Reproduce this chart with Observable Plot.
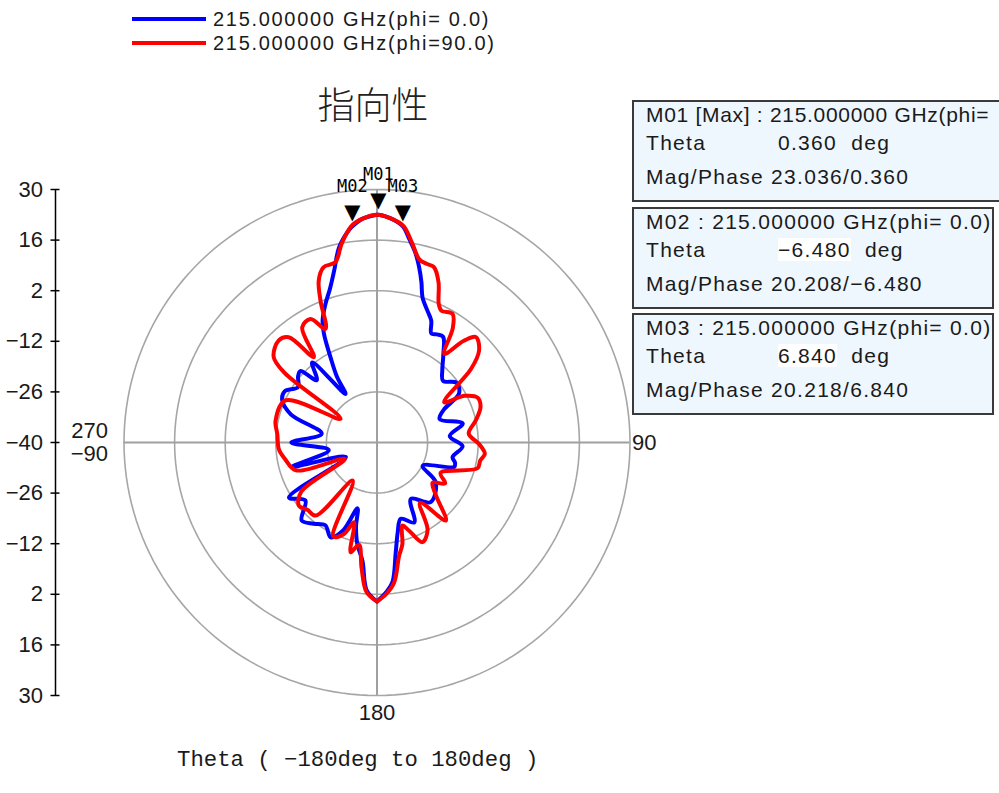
<!DOCTYPE html>
<html><head><meta charset="utf-8">
<script src="https://cdn.jsdelivr.net/npm/d3@7"></script>
<script src="https://cdn.jsdelivr.net/npm/@observablehq/plot@0.6"></script>
<style>
body{margin:0;background:#fff;}
#wrap{position:relative;width:999px;height:793px;overflow:hidden;font-family:"Liberation Sans",Arial,sans-serif;color:#1a1a1a;}
#chart{position:absolute;left:0;top:0;}
.abs{position:absolute;white-space:pre;}
.lg{font-size:20px;letter-spacing:1.7px;line-height:24px;}
.box{position:absolute;border:2px solid #3a3a3a;background:#eef6fe;box-sizing:border-box;}
.bt{position:absolute;white-space:pre;font-size:21px;letter-spacing:1.3px;line-height:24px;}
.hl{background:#fff;}
</style></head><body><div id="wrap"><div id="chart"></div></div>
<script>
// ---------- data ----------
const freqLabel = "215.000000 GHz";
const seriesNames = ["215.000000 GHz(phi= 0.0)", "215.000000 GHz(phi=90.0)"];
const seriesColors = ["#0000ff", "#ff0000"];

// phi = 0 (blue): theta in deg, magnitude in dB
const blueTheta = [-180,-176,-173,-169,-166,-163.5,-159,-154,-148,-142,-136,-129,-122,-115,-106,-99,-90,-81,-72,-66,-61,-55,-50,-47,-44,-39,-33,-31.4,-28.6,-26,-24,-20.4,-17,-14,-11,-8,-6.5,-3.8,0,0.36,3.8,6.84,9,11.6,13.5,15.5,17.4,21,24,26.5,29,32,37,42,47,53,59,64,69.5,77.5,85,92.5,101,104.5,107.5,117,124,138,149,155,162.7,167,170.3,173.7,176.5,180];
const blueMag   = [4,1,-7,-11.4,-16,-21,-14,-10.8,-13,-11.5,-10,-14.5,-11.3,-30.5,-15.5,-26.5,-16.3,-24.5,-15,-11.3,-10.8,-13.3,-11.5,-11,-16,-11.5,-24,-18.8,-13.1,-6.5,-3,0.9,4.5,9,15,18.8,20.2,22,23,23.04,22,20.2,17,13.3,9.9,6,2.1,-1,-3.1,-6.3,-5.8,-5.5,-9.5,-13,-15,-12.5,-13.5,-19.5,-21.5,-15.7,-19.8,-16.3,-18.7,-17.7,-17.6,-25.8,-20.4,-17.8,-21.8,-15.6,-17.9,-14.5,-9.2,-1.1,1.5,4];

// phi = 90 (red)
const redTheta = [-180,-176,-173,-170,-166.5,-164,-160,-155,-147.5,-140,-134,-129,-123,-117,-109,-100,-94,-85,-78,-65.3,-57,-53,-50.4,-44,-40,-36.5,-33,-28.3,-24.4,-21.7,-19.8,-17,-13,-10,-6.5,-3.8,0,3.8,7,10,13,15.5,18,21,24,26,30.4,33.5,37.2,40.5,43.2,48,52,59,62,66,71,77.4,84.5,91,96,100,104.4,115.5,121,126,132,138.6,144.5,150,155.5,160,163,166,169,173,176.5,180];
const redMag   = [4,1.5,-5,-11.3,-8.8,-17,-13,-11.3,-27.5,-13.6,-13.2,-12.2,-15,-30,-16.3,-14.1,-12.8,-12.3,-11.3,-12.1,-28,-8,-2.9,-0.8,-2,-10.6,-2,-1.2,-5.5,2.3,7.6,10.7,11.2,16,20.5,22,23,22,20.3,16,12,11.3,11,7.5,2,0.6,1.3,-2,-9.2,-3,0,-2,-7,-18.3,-12.5,-9.5,-9.7,-12,-14.5,-11.7,-10,-11,-11.3,-20.5,-18,-21,-18,-11.2,-19.5,-12,-9.7,-14,-16,-11,-8,-1,2,4];

// radial axis (dB)
const rMin = -40, rMax = 30;
const ringValues = [-26, -12, 2, 16, 30];
const dbTicks = [-40, -26, -12, 2, 16, 30];

// angle labels
const angleTheta = [90, 180, 270];
const angleText = ["90", "180", "270\n\u221290"];

// markers
const markerNames = ["M01", "M02", "M03"];
const markerTitles = ["M01 [Max]", "M02", "M03"];
const markerPhi = ["0.0", "0.0", "0.0"];
const markerTheta = [0.36, -6.48, 6.84];
const markerMag = [23.036, 20.208, 20.218];

// ---------- helpers ----------
const rad = d => d * Math.PI / 180;
const px = (t, m) => (m - rMin) * Math.sin(rad(t));
const py = (t, m) => (m - rMin) * Math.cos(rad(t));
const fmtMinus = v => String(v).replace("-", "\u2212");

const blue = blueTheta.map((t, i) => ({theta: t, mag: blueMag[i]}));
const red = redTheta.map((t, i) => ({theta: t, mag: redMag[i]}));
const rings = ringValues.flatMap(v => d3.range(0, 361, 2).map(t => ({ring: v, theta: t, mag: v})));
const markers = markerNames.map((n, i) => ({name: n, theta: markerTheta[i], mag: markerMag[i]}));
const angles = angleTheta.map((t, i) => ({theta: t, mag: rMax, text: angleText[i]}));
const span = rMax - rMin;
const yTicks = dbTicks.flatMap(v => v === rMin ? [0] : [v - rMin, -(v - rMin)]);

// geometry of the drawing area
const W = 999, H = 793, mT = 189, mB = 98, mL = 55, cx = 376.5;
const k = (H - mT - mB) / (2 * span);
const xDomain = [-(cx - mL) / k, (W - cx) / k];

const chart = Plot.plot({
  width: W, height: H,
  marginTop: mT, marginBottom: mB, marginLeft: mL, marginRight: 0,
  x: {domain: xDomain, axis: null},
  y: {domain: [-span, span], axis: null},
  style: {fontFamily: "'Liberation Sans', Arial, sans-serif", fontSize: "22px", color: "#1a1a1a", background: "transparent", overflow: "visible"},
  marks: [
    Plot.line(rings, {x: d => px(d.theta, d.mag), y: d => py(d.theta, d.mag), z: "ring", stroke: "#a6a6a6", strokeWidth: 1.6}),
    Plot.ruleX([0], {y1: -span, y2: span, stroke: "#a0a0a0", strokeWidth: 2}),
    Plot.ruleY([0], {x1: -span, x2: span, stroke: "#a0a0a0", strokeWidth: 2}),
    Plot.ruleX([xDomain[0]], {y1: -span, y2: span, stroke: "#000", strokeWidth: 1.5}),
    Plot.axisY(yTicks, {anchor: "left", tickSize: 9, dx: 4.5, tickPadding: 8, stroke: "#000", strokeWidth: 1.5,
      tickFormat: v => fmtMinus(Math.abs(v) + rMin), fontSize: 22}),
    Plot.line(blue, {x: d => px(d.theta, d.mag), y: d => py(d.theta, d.mag), stroke: seriesColors[0], strokeWidth: 4, curve: "catmull-rom"}),
    Plot.line(red, {x: d => px(d.theta, d.mag), y: d => py(d.theta, d.mag), stroke: seriesColors[1], strokeWidth: 4, curve: "catmull-rom"}),
    Plot.text(angles.filter(d => d.theta === 90), {x: d => px(d.theta, d.mag), y: d => py(d.theta, d.mag), text: "text", textAnchor: "start", dx: 2, fontSize: 22}),
    Plot.text(angles.filter(d => d.theta === 180), {x: d => px(d.theta, d.mag), y: d => py(d.theta, d.mag), text: "text", dy: 17, fontSize: 22}),
    Plot.text(angles.filter(d => d.theta === 270), {x: d => px(d.theta, d.mag), y: d => py(d.theta, d.mag), text: "text", textAnchor: "end", dx: -16, fontSize: 22, lineHeight: 1.05}),
    Plot.text(markers, {x: d => px(d.theta, d.mag), y: d => py(d.theta, d.mag), text: () => "\u25BC", dy: -14, fontSize: 21, fontFamily: "DejaVu Sans", fill: "#000"}),
    Plot.text(markers, {x: d => px(d.theta, d.mag), y: d => py(d.theta, d.mag), text: "name", dy: -40, fontSize: 17, fontFamily: "DejaVu Sans Mono", fill: "#000"})
  ]
});
document.getElementById("chart").appendChild(chart);

// ---------- HTML annotations ----------
const wrap = document.getElementById("wrap");
function add(html, cls, style) {
  const d = document.createElement("div");
  d.className = cls; d.innerHTML = html; Object.assign(d.style, style);
  wrap.appendChild(d); return d;
}
// legend
seriesNames.forEach((s, i) => {
  const yc = 19 + i * 24;
  add("", "abs", {left: "132px", top: (yc - 2) + "px", width: "74px", height: "4px", background: seriesColors[i]});
  add(s, "abs lg", {left: "213px", top: (yc - 12) + "px"});
});
// title
add("指向性", "abs", {left: "273px", width: "200px", textAlign: "center", top: "81px", fontSize: "37px", lineHeight: "44px",
  fontFamily: "'Noto Sans CJK JP', sans-serif", fontWeight: "300", color: "#222"});
// axis title
add("Theta ( \u2212180deg to 180deg )", "abs", {left: "177px", top: "746px", fontSize: "22.3px", lineHeight: "28px",
  fontFamily: "'Liberation Mono', monospace", color: "#1a1a1a"});
// marker boxes
const boxTops = [100, 207, 313];
markerNames.forEach((n, i) => {
  const top = boxTops[i];
  const b = add("", "box", {left: "632px", top: top + "px", width: (i === 0 ? 400 : 362) + "px", height: "102px"});
  const t = markerTheta[i].toFixed(3), m = markerMag[i].toFixed(3);
  const hl = i === 0 ? "" : "hl";
  // the first box runs past the right edge of the picture; only the visible part of its heading is kept
  const head = i === 0 ? `${markerTitles[i]} : ${freqLabel}(phi=` : `${markerTitles[i]} : ${freqLabel}(phi= ${markerPhi[i]})`;
  const lines = [head, `Theta`, `Mag/Phase ${m}/${fmtMinus(t)}`];
  [13, 41, 75].forEach((dy, j) => {
    const d = document.createElement("div");
    d.className = "bt"; d.style.left = "12px"; d.style.top = (dy - 12) + "px";
    if (i === 0 && j === 0) d.style.letterSpacing = "0.7px";
    d.textContent = lines[j];
    b.appendChild(d);
  });
  const v = document.createElement("div");
  v.className = "bt"; v.style.left = "144px"; v.style.top = (41 - 12) + "px";
  v.innerHTML = `<span class="${hl}">${fmtMinus(t)}</span>  deg`;
  b.appendChild(v);
});
</script>
</body></html>
